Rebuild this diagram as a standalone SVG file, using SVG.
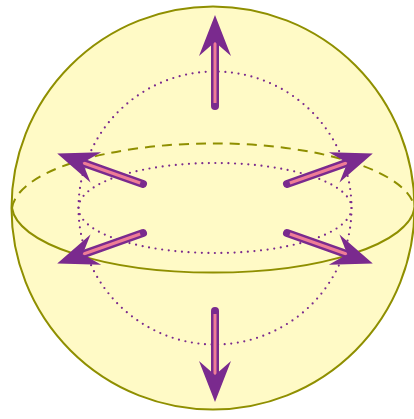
<svg xmlns="http://www.w3.org/2000/svg" xmlns:xlink="http://www.w3.org/1999/xlink" width="414" height="419" viewBox="0 0 414 419">
<style>
.sphere{fill:#FFFAC6;stroke:#8F8F00;stroke-width:2}
.eq{fill:none;stroke:#8F8F00;stroke-width:2}
.dash{stroke-dasharray:10 7}
.dot{fill:none;stroke:#7A2A8E;stroke-width:2.2;stroke-linecap:round;stroke-dasharray:0 6.6}
.shaftO{stroke:#7A2A8E;stroke-width:8;stroke-linecap:round;fill:none}
.shaftI{stroke:#EE7D96;stroke-width:3;stroke-linecap:butt;fill:none}
.head{fill:#7A2A8E}
</style>
<defs>
<g id="arrow">
<line class="shaftO" x1="0" y1="0" x2="0" y2="-64"/>
<line class="shaftI" x1="0" y1="-3" x2="0" y2="-66"/>
<polygon class="head" points="0,-91 16,-50 0,-64 -16,-50"/>
</g>
</defs>
<g id="sphere">
<circle class="sphere" cx="213" cy="208" r="201.5"/>
</g>
<g id="equator">
<path class="eq dash" d="M12,208 A201.5,68 0 0 1 414.5,208"/>
<path class="eq" d="M12,208 A201.5,68 0 0 0 414.5,208"/>
</g>
<g id="inner">
<circle class="dot" cx="215" cy="208" r="136.5"/>
<ellipse class="dot" cx="215" cy="208" rx="136.5" ry="45"/>
</g>
<g id="connectors">
<use xlink:href="#arrow" transform="translate(215,106)"/>
<use xlink:href="#arrow" transform="translate(215,311) rotate(180)"/>
<use xlink:href="#arrow" transform="translate(143,184) rotate(-70.5)"/>
<use xlink:href="#arrow" transform="translate(287,184) rotate(70.5)"/>
<use xlink:href="#arrow" transform="translate(143,233) rotate(-109.5)"/>
<use xlink:href="#arrow" transform="translate(287,233) rotate(109.5)"/>
</g>
</svg>
